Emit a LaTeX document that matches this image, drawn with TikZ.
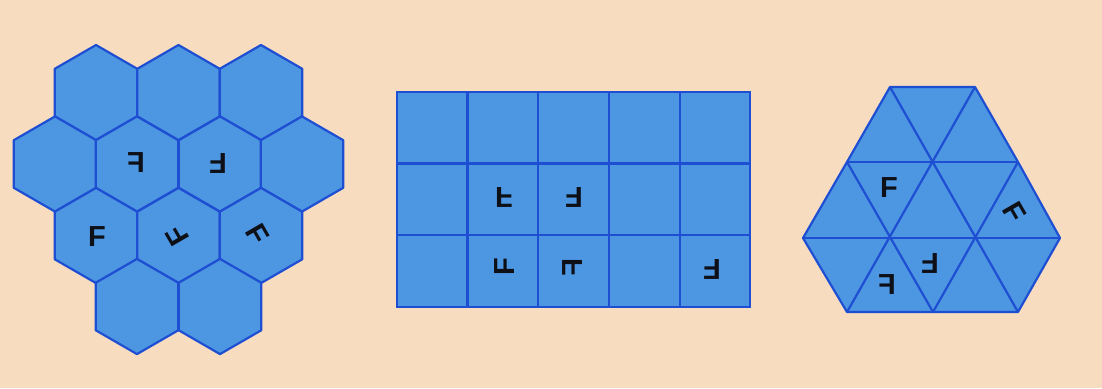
\documentclass[tikz,border=0pt]{standalone}
\usepackage{fontspec}
\setmainfont{Liberation Sans}
\usepackage{graphicx}
\definecolor{bg}{HTML}{F8DCC0}
\definecolor{cell}{HTML}{4D96E2}
\definecolor{edge}{HTML}{1E4FD2}
\definecolor{ink}{HTML}{0E1018}
\tikzset{
  tile/.style={fill=cell, draw=edge, line width=2.2pt, line join=round},
  gridline/.style={draw=edge, line width=2.2pt},
  glyph/.style={inner sep=0pt, text=ink, font=\fontsize{29}{29}\selectfont\bfseries}
}
\begin{document}
\begin{tikzpicture}[x=1pt,y=-1pt]
\fill[bg] (0,0) rectangle (1102,388);
\useasboundingbox (0,0) rectangle (1102,388);
% hexagon tiling
\def\R{47.6}
\foreach \cx/\cy in {96/92.6,178.5/92.6,261/92.6,
                     55/164,137/164,220/164,302/164,
                     96/235.5,178.5/235.5,261/235.5,
                     137/306.5,220/306.5}{
  \draw[tile] ({\cx},{\cy-\R}) -- ({\cx+0.866*\R},{\cy-0.5*\R}) -- ({\cx+0.866*\R},{\cy+0.5*\R})
     -- ({\cx},{\cy+\R}) -- ({\cx-0.866*\R},{\cy+0.5*\R}) -- ({\cx-0.866*\R},{\cy-0.5*\R}) -- cycle;
}
\node[glyph] (h1) at (136,163) {\scalebox{-1}[1]{F}};
\node[glyph] (h2) at (218,163) {\rotatebox{180}{F}};
\node[glyph] (h3) at (97,237) {F};
\node[glyph] (h4) at (177,236) {\rotatebox{120}{F}};
\node[glyph] (h5) at (258,234) {\rotatebox{-60}{F}};
% rectangle grid
\fill[cell] (397,92) rectangle (750,307);
\foreach \x in {467.5,538,609,680}{ \draw[gridline] (\x,92) -- (\x,307); }
\foreach \y in {163.5,235}{ \draw[gridline] (397,\y) -- (750,\y); }
\draw[gridline] (397,92) rectangle (750,307);
\node[glyph] (r1) at (504,197) {\scalebox{1}[-1]{F}};
\node[glyph] (r2) at (574,197) {\rotatebox{180}{F}};
\node[glyph] (r3) at (505,267) {\rotatebox{90}{F}};
\node[glyph] (r4) at (573,267) {\rotatebox{90}{\scalebox{-1}[1]{F}}};
\node[glyph] (r5) at (712,269) {\rotatebox{180}{F}};
% triangle tiling
\fill[cell] (890,87) -- (975,87) -- (1018,162) -- (1060,238) -- (1018,312) -- (847,312) -- (803,238) -- (847,162) -- cycle;
\draw[gridline] (847,162) -- (1018,162);
\draw[gridline] (803,238) -- (1060,238);
\draw[gridline] (890,87) -- (1018,312);
\draw[gridline] (975,87) -- (847,312);
\draw[gridline] (847,162) -- (933,312);
\draw[gridline] (1018,162) -- (933,312);
\draw[gridline, line join=round] (890,87) -- (975,87) -- (1018,162) -- (1060,238) -- (1018,312) -- (847,312) -- (803,238) -- (847,162) -- cycle;
\node[glyph] (t1) at (889,188) {F};
\node[glyph] (t2) at (1015,212) {\rotatebox{-60}{F}};
\node[glyph] (t3) at (930,263) {\rotatebox{180}{F}};
\node[glyph] (t4) at (887,285) {\scalebox{-1}[1]{F}};
\end{tikzpicture}
\end{document}
